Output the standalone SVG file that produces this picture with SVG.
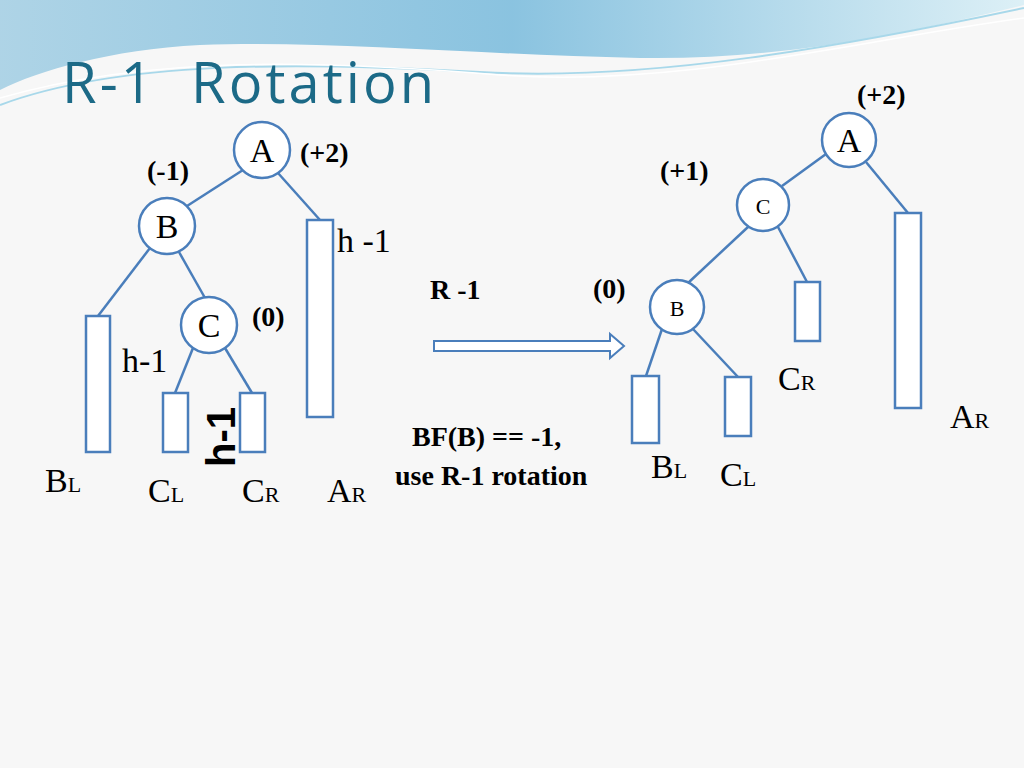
<svg xmlns="http://www.w3.org/2000/svg" width="1024" height="768" viewBox="0 0 1024 768">
<defs>
<linearGradient id="wave" x1="0" y1="0" x2="1" y2="0">
<stop offset="0" stop-color="#9ccbe2"/><stop offset="0.5" stop-color="#6fb6da"/><stop offset="1" stop-color="#d6eef6"/>
</linearGradient>
<style>
.ln{stroke:#4a7ebb;stroke-width:2.5;fill:none}
.nd{fill:#fff;stroke:#4a7ebb;stroke-width:2.5}
.bx{fill:#fff;stroke:#4a7ebb;stroke-width:2.5}
.t{font-family:"Liberation Serif",serif;font-size:34px;fill:#000}
.s{font-family:"Liberation Serif",serif;font-size:22px;fill:#000}
.b{font-family:"Liberation Serif",serif;font-size:28px;font-weight:bold;fill:#000}
</style>
</defs>
<rect width="1024" height="768" fill="#f7f7f7"/>
<path d="M0 0 H1024 V5 C900 35 780 60 640 58 C480 55 330 40 200 45 C110 50 40 70 0 90 Z" fill="url(#wave)" opacity="0.8"/>
<path d="M0 105 C120 60 300 62 480 72 C650 82 850 45 1024 8" stroke="#a8d8ea" stroke-width="2" fill="none"/>
<path d="M0 98 C150 55 320 60 500 75 C680 88 860 40 1024 18" stroke="#ffffff" stroke-width="1.5" fill="none"/>
<text x="62" y="103" font-family="Open Sans, sans-serif" font-size="56" fill="#1c6a87" xml:space="preserve" textLength="372">R-1  Rotation</text>
<g id="connectors">
<line class="ln" x1="243" y1="170" x2="187" y2="206"/>
<line class="ln" x1="278" y1="173" x2="320" y2="220"/>
<line class="ln" x1="150" y1="248" x2="98" y2="316"/>
<line class="ln" x1="179" y1="252" x2="205" y2="298"/>
<line class="ln" x1="193" y1="348" x2="175" y2="393"/>
<line class="ln" x1="225" y1="348" x2="252" y2="393"/>
<line class="ln" x1="826" y1="154" x2="782" y2="186"/>
<line class="ln" x1="866" y1="162" x2="908" y2="213"/>
<line class="ln" x1="748" y1="227" x2="688" y2="283"/>
<line class="ln" x1="778" y1="227" x2="807" y2="282"/>
<line class="ln" x1="662" y1="329" x2="646" y2="376"/>
<line class="ln" x1="693" y1="329" x2="738" y2="377"/>
<path d="M434 341 H610 V334 L624 346 L610 358 V351 H434 Z" fill="#fff" stroke="#4a7ebb" stroke-width="2"/>
</g>
<g id="nodeA"><circle class="nd" cx="262" cy="150" r="28"/><text class="t" x="262" y="162" text-anchor="middle">A</text></g>
<g id="nodeB"><circle class="nd" cx="167" cy="226" r="28"/><text class="t" x="167" y="238" text-anchor="middle">B</text></g>
<g id="nodeC"><circle class="nd" cx="209" cy="325" r="28"/><text class="t" x="209" y="337" text-anchor="middle">C</text></g>
<g id="boxes">
<rect class="bx" x="86" y="316" width="24" height="136"/>
<rect class="bx" x="307" y="220" width="26" height="197"/>
<rect class="bx" x="163" y="393" width="25" height="59"/>
<rect class="bx" x="240" y="393" width="25" height="59"/>
<rect class="bx" x="895" y="213" width="26" height="195"/>
<rect class="bx" x="795" y="282" width="25" height="59"/>
<rect class="bx" x="632" y="376" width="27" height="67"/>
<rect class="bx" x="725" y="377" width="26" height="59"/>
</g>
<g id="nodeA2"><circle class="nd" cx="849" cy="140" r="27"/><text class="t" x="849" y="152" text-anchor="middle">A</text></g>
<g id="nodeC2"><circle class="nd" cx="763" cy="205" r="26"/><text class="s" x="763" y="214" text-anchor="middle" font-size="26">C</text></g>
<g id="nodeB2"><circle class="nd" cx="677" cy="307" r="27"/><text class="s" x="677" y="316" text-anchor="middle" font-size="26">B</text></g>
<g id="labels">
<text class="b" x="147" y="180" font-size="26">(-1)</text>
<text class="b" x="300" y="162" font-size="26">(+2)</text>
<text class="t" x="337" y="252" font-size="30">h -1</text>
<text class="b" x="252" y="326" font-size="26">(0)</text>
<text class="t" x="122" y="372" font-size="30">h-1</text>
<text x="0" y="0" transform="translate(235,467) rotate(-90)" font-family="Liberation Sans, sans-serif" font-weight="bold" font-size="40" fill="#000">h-1</text>
<text class="t" x="45" y="492">B<tspan font-size="22">L</tspan></text>
<text class="t" x="148" y="502">C<tspan font-size="22">L</tspan></text>
<text class="t" x="242" y="502">C<tspan font-size="22">R</tspan></text>
<text class="t" x="327" y="502">A<tspan font-size="22">R</tspan></text>
<text class="b" x="430" y="299" font-size="24">R -1</text>
<text class="b" x="412" y="446" font-size="26">BF(B) == -1,</text>
<text class="b" x="395" y="485" font-size="27">use R-1 rotation</text>
<text class="b" x="857" y="104" font-size="26">(+2)</text>
<text class="b" x="660" y="180" font-size="26">(+1)</text>
<text class="b" x="593" y="298" font-size="26">(0)</text>
<text class="t" x="778" y="390">C<tspan font-size="22">R</tspan></text>
<text class="t" x="950" y="428">A<tspan font-size="22">R</tspan></text>
<text class="t" x="651" y="478">B<tspan font-size="22">L</tspan></text>
<text class="t" x="720" y="486">C<tspan font-size="22">L</tspan></text>
</g>
</svg>
